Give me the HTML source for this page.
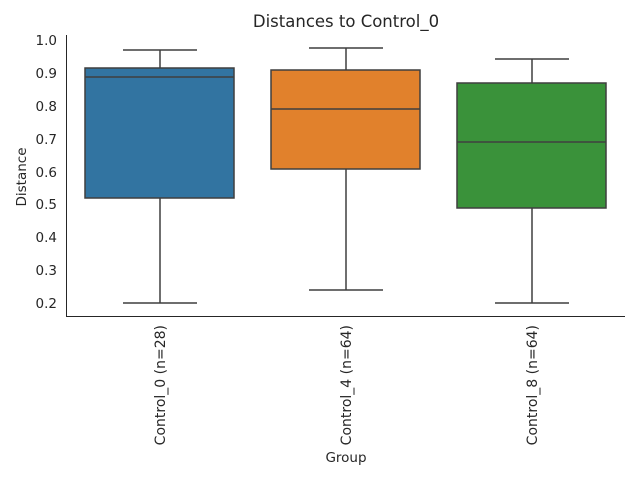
<!DOCTYPE html>
<html><head><style>body{margin:0;background:#fff}</style></head><body>
<svg width="640" height="480" xmlns="http://www.w3.org/2000/svg" font-family="DejaVu Sans, Liberation Sans, sans-serif">
<rect width="640" height="480" fill="#fff"/>
<text x="346" y="27" font-size="16.5" text-anchor="middle" fill="#262626">Distances to Control_0</text>
<g font-size="13.5" fill="#262626" text-anchor="end">
<text x="57" y="45">1.0</text><text x="57" y="78">0.9</text><text x="57" y="111">0.8</text><text x="57" y="144">0.7</text><text x="57" y="177">0.6</text><text x="57" y="209">0.5</text><text x="57" y="242">0.4</text><text x="57" y="275">0.3</text><text x="57" y="308">0.2</text>
</g>
<text transform="translate(26,177) rotate(-90)" font-size="13.5" text-anchor="middle" fill="#262626">Distance</text>
<text x="346" y="462" font-size="13.5" text-anchor="middle" fill="#262626">Group</text>
<g font-size="14" fill="#262626" text-anchor="end">
<text transform="translate(165,325) rotate(-90)">Control_0 (n=28)</text>
<text transform="translate(351,325) rotate(-90)">Control_4 (n=64)</text>
<text transform="translate(537,325) rotate(-90)">Control_8 (n=64)</text>
</g>
<g stroke="#3f3f3f" stroke-width="1.5" fill="none">
<line x1="160" y1="198" x2="160" y2="303"/><line x1="160" y1="68" x2="160" y2="50"/>
<line x1="123" y1="303" x2="197" y2="303"/><line x1="123" y1="50" x2="197" y2="50"/>
<rect x="85" y="68" width="149" height="130" fill="#3274a1"/>
<line x1="85" y1="77" x2="234" y2="77"/>
<line x1="346" y1="169" x2="346" y2="290"/><line x1="346" y1="70" x2="346" y2="48"/>
<line x1="309" y1="290" x2="383" y2="290"/><line x1="309" y1="48" x2="383" y2="48"/>
<rect x="271" y="70" width="149" height="99" fill="#e1812c"/>
<line x1="271" y1="109" x2="420" y2="109"/>
<line x1="532" y1="208" x2="532" y2="303"/><line x1="532" y1="83" x2="532" y2="59"/>
<line x1="495" y1="303" x2="569" y2="303"/><line x1="495" y1="59" x2="569" y2="59"/>
<rect x="457" y="83" width="149" height="125" fill="#3a923a"/>
<line x1="457" y1="142" x2="606" y2="142"/>
</g>
<g stroke="#262626" stroke-width="1">
<line x1="66.5" y1="35" x2="66.5" y2="316"/><line x1="66" y1="316.5" x2="625" y2="316.5"/>
</g>
</svg>
</body></html>
